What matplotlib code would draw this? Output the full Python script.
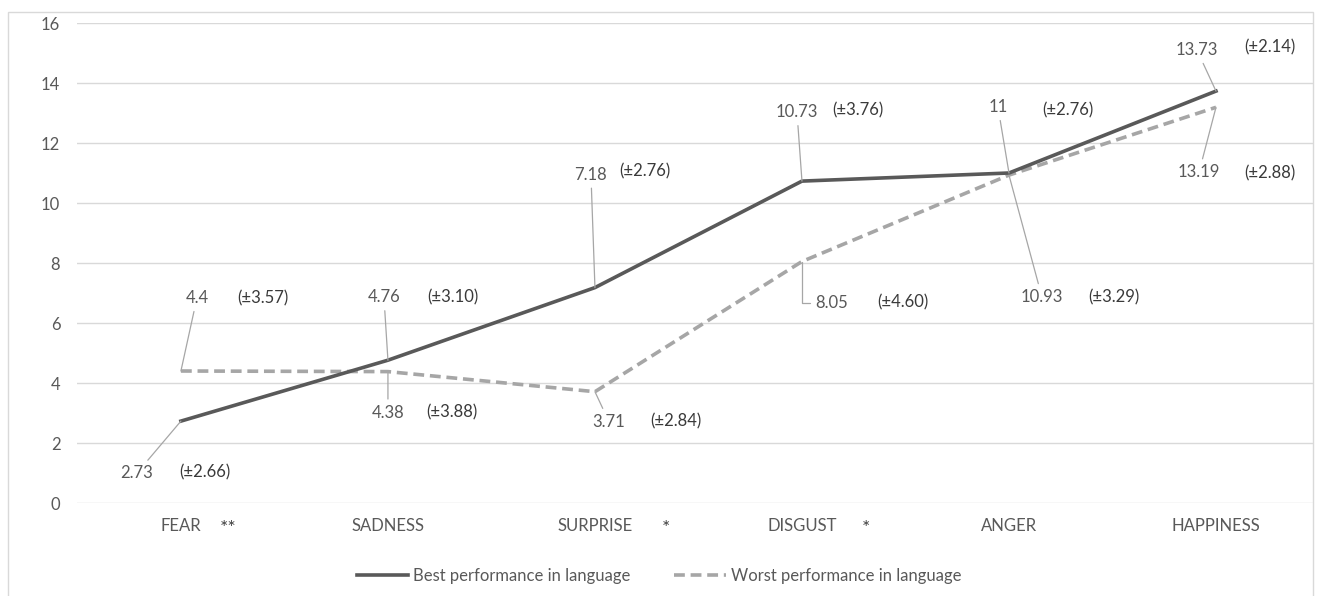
import matplotlib
matplotlib.use("Agg")
import matplotlib.pyplot as plt
from matplotlib.patches import Rectangle

categories = ["FEAR", "SADNESS", "SURPRISE", "DISGUST", "ANGER", "HAPPINESS"]
significance = ["**", "", "*", "*", "", ""]
best = [2.73, 4.76, 7.18, 10.73, 11, 13.73]
best_sd = ["(±2.66)", "(±3.10)", "(±2.76)", "(±3.76)", "(±2.76)", "(±2.14)"]
worst = [4.4, 4.38, 3.71, 8.05, 10.93, 13.19]
worst_sd = ["(±3.57)", "(±3.88)", "(±2.84)", "(±4.60)", "(±3.29)", "(±2.88)"]
yticks = [0, 2, 4, 6, 8, 10, 12, 14, 16]

# label offsets in pixels from the data point: (value dx, dy, sd dx, dy)
best_off = [(-44, -52, 24, -51), (-4, 63, 65, 63), (-4, 113, 50, 116),
            (-5, 69, 56, 71), (-11, 66, 59, 63), (-19, 41, 54, 44)]
worst_off = [(16, 73, 82, 73), (0, -41, 64, -41), (14, -30, 81, -30),
             (30, -41, 101, -41), (33, -122, 105, -122), (-17, -65, 54, -66)]
sig_dx = [47, 0, 71, 64, 0, 0]

plt.rcParams['font.family'] = ['Lato', 'DejaVu Sans']
W, H = 1318, 596
fig = plt.figure(figsize=(W / 100, H / 100), dpi=100)
ax = fig.add_axes([77 / W, (H - 503) / H, (1313 - 77) / W, 480 / H])

# chart area border
fig.add_artist(Rectangle((8 / W, -0.05), (1313 - 8) / W, (H - 12) / H + 0.05,
                         transform=fig.transFigure, fill=False,
                         edgecolor="#d9d9d9", lw=1))

x = list(range(len(categories)))
ax.plot(x, best, color="#595959", lw=2.6, label="Best performance in language", zorder=3)
ax.plot(x, worst, color="#a6a6a6", lw=2.6, dashes=(3, 1.6),
        label="Worst performance in language", zorder=2)

ax.set_xlim(-0.502, (1313 - 181) / 207)
ax.set_ylim(0, 16)
ax.set_yticks(yticks)
ax.set_xticks(x)
ax.set_xticklabels(categories)
ax.tick_params(length=0, colors="#595959", labelsize=12)
ax.tick_params(axis="y", pad=12)
ax.tick_params(axis="x", pad=11)
ax.grid(axis="y", color="#d9d9d9", lw=1)
ax.set_axisbelow(True)
for s in ax.spines.values():
    s.set_visible(False)

for i in x:
    if significance[i]:
        ax.annotate(significance[i], (i, 0), xytext=(sig_dx[i], -25),
                    textcoords="offset pixels", ha="center", va="center",
                    fontsize=14, color="#404040", annotation_clip=False)

def label(vals, sds, offs):
    for i in x:
        dx, dy, sx, sy = offs[i]
        conn = "angle,angleA=0,angleB=90,rad=0" if vals is worst and i == 3 else "arc3"
        ax.annotate(f"{vals[i]:g}", (i, vals[i]), xytext=(dx, dy),
                    textcoords="offset pixels", ha="center", va="center",
                    fontsize=12, color="#595959", annotation_clip=False,
                    arrowprops=dict(arrowstyle="-", color="#a6a6a6", lw=0.9,
                                    shrinkA=2, shrinkB=0, connectionstyle=conn))
        ax.annotate(sds[i], (i, vals[i]), xytext=(sx, sy),
                    textcoords="offset pixels", ha="center", va="center",
                    fontsize=12, color="#3a3a3a", annotation_clip=False)

label(best, best_sd, best_off)
label(worst, worst_sd, worst_off)

fig.legend(loc="center", bbox_to_anchor=(0.5, 20 / H), ncol=2, frameon=False,
           fontsize=12, labelcolor="#595959", handlelength=3.1, handletextpad=0.3,
           columnspacing=2.6)

fig.savefig("out.png", dpi=100)
